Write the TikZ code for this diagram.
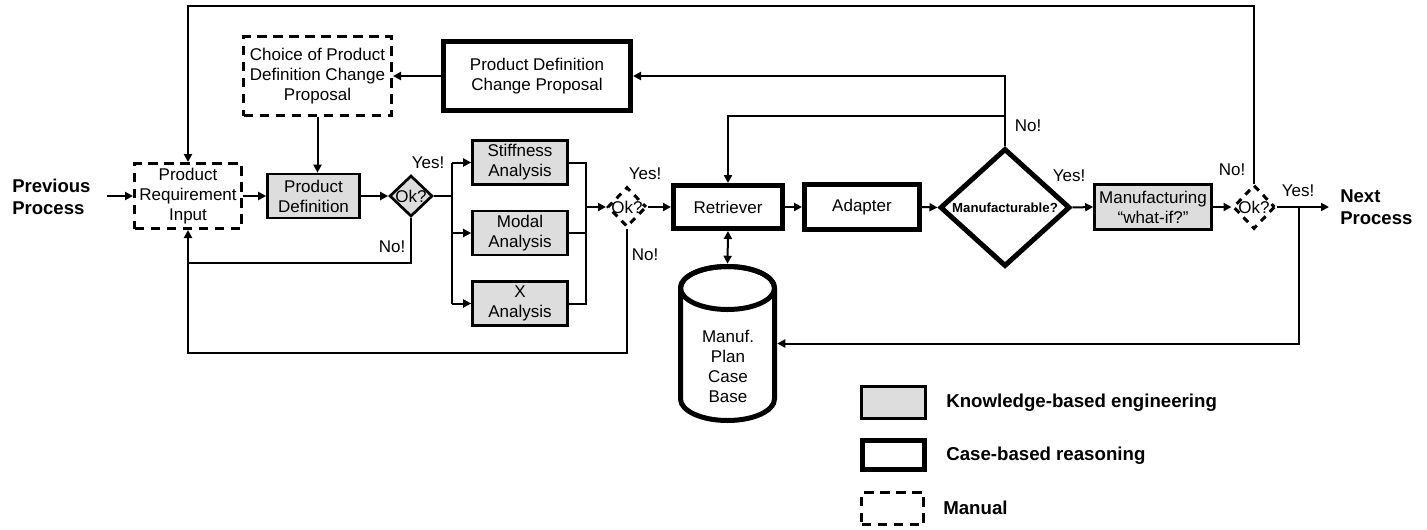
\documentclass[tikz,border=0pt]{standalone}
\usepackage{fontspec}
\setmainfont{Liberation Sans}
\usetikzlibrary{arrows.meta,shapes.geometric,calc}
\definecolor{kbegray}{RGB}{221,221,221}
\begin{document}
\begin{tikzpicture}[x=0.75pt,y=-0.75pt,
  every node/.style={font=\fontsize{12.75}{15}\selectfont, align=center, inner sep=0pt},
  conn/.style={line width=1.5pt},
  arr/.style={conn, -{Triangle[length=6pt,width=6pt]}},
  darr/.style={conn, {Triangle[length=6pt,width=6pt]}-{Triangle[length=6pt,width=6pt]}},
  kbe/.style={draw, fill=kbegray, line width=2pt},
  cbr/.style={draw, line width=3.75pt, fill=white},
  man/.style={draw, line width=2.25pt, dash pattern=on 7pt off 5pt},
  mand/.style={draw, line width=2.25pt, dash pattern=on 5pt off 4.5pt, dash phase=2pt},
  boldlbl/.style={font=\fontsize{13.9}{16.5}\selectfont\bfseries, align=left},
  legtxt/.style={font=\fontsize{14}{16}\selectfont\bfseries, align=left},
  lbl/.style={font=\fontsize{12.75}{15}\selectfont}
]
\useasboundingbox (0,0) rectangle (1427,529);

% main nodes
\node[boldlbl, anchor=west] (prev) at (12,196.5) {Previous\\Process};
\node[man, minimum width=80.25pt, minimum height=48.75pt] (pri) at (188,196) {Product\\Requirement\\Input};
\node[kbe, minimum width=69pt, minimum height=33pt] (pd) at (313.5,196) {Product\\Definition};
\node[kbe, diamond, minimum width=32.25pt, minimum height=30.75pt, label={[lbl]center:Ok?}] (ok1) at (411,196) {};
\node[man, minimum width=111pt, minimum height=59.25pt] (choice) at (317.5,76) {Choice of Product\\Definition Change\\Proposal};
\node[cbr, minimum width=140.25pt, minimum height=51.75pt] (pdcp) at (537,76) {Product Definition\\Change Proposal};
\node[kbe, minimum width=71.25pt, minimum height=33pt] (stiff) at (520,162.5) {Stiffness\\Analysis};
\node[kbe, minimum width=71.25pt, minimum height=33pt] (modal) at (520,233) {Modal\\Analysis};
\node[kbe, minimum width=71.25pt, minimum height=33pt] (xan) at (520,303.5) {X\\Analysis};
\node[mand, diamond, minimum width=29.25pt, minimum height=30pt, label={[lbl]center:Ok?}] (ok2) at (627,207) {};
\node[cbr, minimum width=81.75pt, minimum height=32.25pt] (retr) at (728,207) {Retriever};
\node[cbr, minimum width=86.25pt, minimum height=33.75pt] (adapt) at (862,207) {Adapter};
\node[cbr, diamond, minimum width=97.5pt, minimum height=88.5pt, font=\fontsize{9.9}{12}\selectfont\bfseries] (manuf) at (1005,207.5) {Manufacturable?};
\node[kbe, minimum width=87.75pt, minimum height=33.75pt] (mwi) at (1153,207) {Manufacturing\\“what-if?”};
\node[mand, diamond, minimum width=31.5pt, minimum height=33pt, label={[lbl]center:Ok?}] (ok3) at (1254,207) {};
\node[boldlbl, anchor=west] (next) at (1340,207) {Next\\Process};

% case base cylinder
\node[minimum width=74.25pt, minimum height=119.25pt] (cyl) at (727.5,343.5) {};
\draw[line width=3.75pt, fill=white] (680.5,288) -- (680.5,399)
  arc[start angle=180, end angle=360, x radius=35.25pt, y radius=16.125pt]
  -- (774.5,288)
  arc[start angle=0, end angle=180, x radius=35.25pt, y radius=16.125pt] -- cycle;
\draw[line width=3.75pt] (727.5,288) ellipse [x radius=35.25pt, y radius=16.125pt];
\node (cyltxt) at (728,366) {Manuf.\\Plan\\Case\\Base};

% labels
\node[lbl] (y1) at (428,163) {Yes!};
\node[lbl] (n1) at (392,247) {No!};
\node[lbl] (y2) at (645,174) {Yes!};
\node[lbl] (n2) at (645,255) {No!};
\node[lbl] (n3) at (1028,126) {No!};
\node[lbl] (y3) at (1069,176) {Yes!};
\node[lbl] (n4) at (1232,170) {No!};
\node[lbl] (y4) at (1298,191) {Yes!};

% coordinates
\coordinate (prevarr) at (107,196);
\coordinate (b1) at (452,196);
\coordinate (b2) at (586,207);
\coordinate (nextend) at (1329,207);
\coordinate (split) at (1299,207);
\coordinate (toprow) at (0,6);
\coordinate (row1) at (0,263);
\coordinate (row2) at (0,353);
\coordinate (row3) at (0,116);

% connectors
\draw[arr] (prevarr) -- (pri.west);
\draw[arr] (pri.east) -- (pd.west);
\draw[arr] (pd.east) -- (ok1.west);
\draw[conn] (ok1.east) -- (b1);
\draw[conn] (b1 |- stiff.west) -- (b1 |- xan.west);
\draw[arr] (b1 |- stiff.west) -- (stiff.west);
\draw[arr] (b1 |- modal.west) -- (modal.west);
\draw[arr] (b1 |- xan.west) -- (xan.west);
\draw[conn] (stiff.east) -- (stiff.east -| b2) -- (xan.east -| b2) -- (xan.east);
\draw[conn] (modal.east) -- (modal.east -| b2);
\draw[arr] (b2) -- (ok2.west);
\draw[arr] (ok2.east) -- (retr.west);
\draw[arr] (retr.east) -- (adapt.west);
\draw[arr] (adapt.east) -- (manuf.west);
\draw[arr] (manuf.east) -- (mwi.west);
\draw[arr] (mwi.east) -- (ok3.west);
\draw[arr] (ok3.east) -- (nextend);
\draw[arr] (split) |- (cyl.east);
\draw[arr] (ok3.north) -- (ok3.north |- toprow) -| (pri.north);
\draw[conn] (ok1.south) |- (row1 -| pri.south);
\draw[arr] (ok2.south) |- (row2 -| pri.south) -- (pri.south);
\draw[arr] (manuf.north) |- (pdcp.east);
\draw[arr] (manuf.north |- row3) -| (retr.north);
\draw[arr] (pdcp.west) -- (choice.east);
\draw[arr] (choice.south) -- (choice.south |- pd.north);
\draw[darr] (retr.south) -- (cyl.north);

% legend
\node[kbe, minimum width=48pt, minimum height=24pt] (lg1) at (893.5,402.5) {};
\node[cbr, minimum width=46.5pt, minimum height=21.75pt] (lg2) at (893.5,455) {};
\node[man, minimum width=46.5pt, minimum height=24pt] (lg3) at (892.5,508.5) {};
\node[legtxt, anchor=west] (lt1) at (946,403) {Knowledge-based engineering};
\node[legtxt, anchor=west] (lt2) at (946,456) {Case-based reasoning};
\node[legtxt, anchor=west] (lt3) at (943,508) {Manual};
\end{tikzpicture}
\end{document}
